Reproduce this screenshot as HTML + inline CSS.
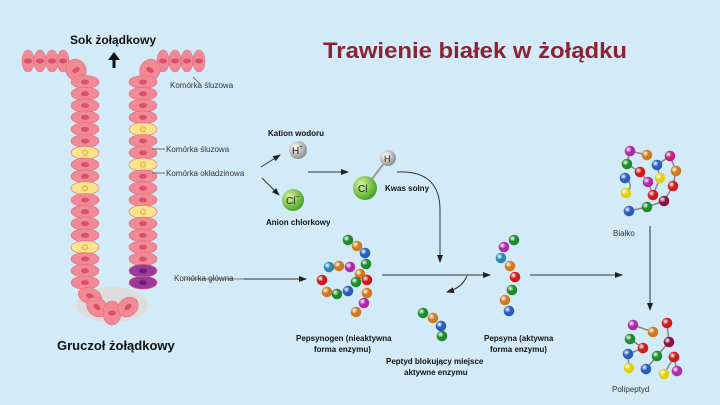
<!DOCTYPE html>
<html><head><meta charset="utf-8"><style>
html,body{margin:0;padding:0;background:#d3ebf8;}
svg{display:block;font-family:"Liberation Sans",sans-serif;}
</style></head><body>
<svg id="s" width="720" height="405" viewBox="0 0 720 405" xmlns="http://www.w3.org/2000/svg">
<defs>
<radialGradient id="gH" cx="35%" cy="35%" r="70%"><stop offset="0" stop-color="#fff"/><stop offset="1" stop-color="#8a8a8a"/></radialGradient>
<radialGradient id="gC" cx="35%" cy="35%" r="70%"><stop offset="0" stop-color="#d8f5a0"/><stop offset="1" stop-color="#3fa01c"/></radialGradient>
<marker id="ar" markerWidth="8" markerHeight="8" refX="7" refY="4" orient="auto" markerUnits="userSpaceOnUse"><path d="M0,1 L8,4 L0,7 z" fill="#222"/></marker>
</defs>
<rect width="720" height="405" fill="#d3ebf8"/>
<g id="gland"></g>
<g id="balls"></g>
<text x="323" y="58" font-size="22" font-weight="bold" fill="#8b2332" textLength="304" lengthAdjust="spacingAndGlyphs">Trawienie białek w żołądku</text>
<text x="70" y="44" font-size="12" font-weight="bold" fill="#111">Sok żołądkowy</text>
<path d="M114,68 L114,58" stroke="#111" stroke-width="3"/><path d="M108,60 L114,52 L120,60 z" fill="#111"/>
<text x="57" y="350" font-size="13" font-weight="bold" fill="#111">Gruczoł żołądkowy</text>
<g font-size="8" fill="#333">
<text x="170" y="88">Komórka śluzowa</text>
<text x="166" y="152">Komórka śluzowa</text>
<text x="166" y="176">Komórka okładzinowa</text>
<text x="174" y="281">Komórka główna</text>
<text x="613" y="236">Białko</text>
<text x="612" y="392">Polipeptyd</text>
</g>
<g stroke="#555" stroke-width="0.8"><line x1="152" y1="149" x2="165" y2="149"/><line x1="152" y1="173" x2="165" y2="173"/><line x1="193" y1="77" x2="200" y2="84"/></g>
<g font-size="8" font-weight="bold" fill="#111">
<text x="268" y="136">Kation wodoru</text>
<text x="266" y="225">Anion chlorkowy</text>
<text x="385" y="191">Kwas solny</text>
<text x="296" y="341">Pepsynogen (nieaktywna</text>
<text x="314" y="352">forma enzymu)</text>
<text x="386" y="364">Peptyd blokujący miejsce</text>
<text x="404" y="375">aktywne enzymu</text>
<text x="484" y="341">Pepsyna (aktywna</text>
<text x="490" y="352">forma enzymu)</text>
</g>
<g stroke="#333" stroke-width="1" fill="none" marker-end="url(#ar)">
<line x1="244" y1="279" x2="306" y2="279"/>
<line x1="261" y1="167" x2="280" y2="155"/>
<line x1="262" y1="178" x2="279" y2="195"/>
<line x1="308" y1="172" x2="348" y2="172"/>
<path d="M397,172 Q440,170 440,210 L440,262"/>
<line x1="382" y1="275" x2="490" y2="275"/>
<path d="M467,276 Q462,288 447,292"/>
<line x1="530" y1="275" x2="622" y2="275"/>
<line x1="650" y1="226" x2="650" y2="310"/>
</g>
<line x1="186" y1="279" x2="244" y2="279" stroke="#555" stroke-width="0.8"/>
<circle cx="298" cy="150" r="9" fill="url(#gH)"/><text x="292" y="154" font-size="10" fill="#222">H<tspan font-size="6" dy="-5">+</tspan></text>
<circle cx="293" cy="200" r="11" fill="url(#gC)"/><text x="286" y="204" font-size="10" fill="#222">Cl<tspan font-size="7" dy="-5">−</tspan></text>
<line x1="365" y1="188" x2="388" y2="158" stroke="#999" stroke-width="2"/>
<circle cx="388" cy="158" r="8" fill="url(#gH)"/><text x="384" y="162" font-size="9" fill="#222">H</text>
<circle cx="365" cy="188" r="12" fill="url(#gC)"/><text x="358" y="192" font-size="10" fill="#222">Cl</text>
</svg>
<script>
var NS="http://www.w3.org/2000/svg";
function el(p,t,a){var e=document.createElementNS(NS,t);for(var k in a)e.setAttribute(k,a[k]);p.appendChild(e);return e;}
var g=document.getElementById("gland");
var pink="#f28a96",dark="#d9506a",yel="#fbe58a";
function cell(x,y,rx,ry,type,rot){
 var f=pink,n=dark;
 if(type=="y"){f=yel;n="#e8a040";}
 if(type=="p"){f="#9a3a9e";n="#6a2070";}
 var gg=el(g,"g",{transform:"rotate("+(rot||0)+" "+x+" "+y+")"});
 el(gg,"ellipse",{cx:x,cy:y,rx:rx,ry:ry,fill:f,stroke:"#e06a7c","stroke-width":0.6});
 el(gg,"ellipse",{cx:x,cy:y,rx:type=="y"?2.5:4,ry:2.5,fill:type=="y"?"none":n,stroke:type=="y"?n:"none","stroke-width":1});
}
el(g,"ellipse",{cx:112,cy:305,rx:36,ry:18,fill:"#ddd"});
[28,40,52,63].forEach(function(x){cell(x,61,6,11,"");});
[163,175,187,199].forEach(function(x){cell(x,61,6,11,"");});
cell(76,70,10,11,"",-30);cell(150,70,10,11,"",30);
var L=["","","","","","","y","","","y","","","","","y","","",""];
var R=["","","","","y","","","y","","","","y","","","","","p","p"];
for(var i=0;i<18;i++){var y=82+i*11.8;cell(85,y,14,6.5,L[i]);}
for(var i=0;i<18;i++){var y=82+i*11.8;cell(143,y,14,6.5,R[i]);}
cell(90,296,12,8,"",20);cell(97,307,11,9,"",40);cell(112,313,9,12,"");cell(128,307,11,9,"",-40);
var B=document.getElementById("balls");
var C={g:"#1e8a2a",o:"#d07a20",b:"#2a5cc0",r:"#d01a1a",p:"#b02aa8",y:"#e0d010",m:"#c02080",d:"#8a1040",t:"#2a8ab0"};
function ball(x,y,c,r){
 var id="bg"+c;
 if(!document.getElementById(id)){var d=document.querySelector("defs");var rg=el(d,"radialGradient",{id:id,cx:"35%",cy:"35%",r:"70%"});el(rg,"stop",{offset:0,"stop-color":"#fff"});el(rg,"stop",{offset:0.45,"stop-color":C[c]});el(rg,"stop",{offset:1,"stop-color":C[c]});}
 el(B,"circle",{cx:x,cy:y,r:r||5.3,fill:"url(#"+id+")"});
}
function chain(list,line){
 if(line){var d="M"+list.map(function(a){return a[0]+","+a[1];}).join(" L");el(B,"path",{d:d,stroke:"#888","stroke-width":1.5,fill:"none"});}
 list.forEach(function(a){ball(a[0],a[1],a[2],a[3]);});
}
chain([[348,240,"g"],[357,246,"o"],[365,253,"b"],[366,264,"g"],[329,267,"t"],[339,266,"o"],[350,267,"p"],[360,274,"o"],[322,280,"r"],[356,282,"g"],[367,280,"r"],[327,292,"o"],[337,294,"g"],[348,291,"b"],[367,293,"o"],[364,303,"p"],[356,312,"o"]]);
chain([[423,313,"g"],[433,318,"o"],[441,326,"b"],[442,336,"g"]]);
chain([[514,240,"g"],[504,247,"p"],[501,258,"t"],[510,266,"o"],[515,277,"r"],[512,290,"g"],[505,300,"o"],[509,311,"b"]]);
chain([[629,211,"b"],[647,207,"g"],[664,201,"d"],[673,186,"r"],[676,171,"o"],[670,156,"m"],[657,165,"b"],[660,178,"y"],[653,195,"r"],[648,182,"p"],[640,172,"r"],[627,164,"g"],[630,151,"p"],[647,155,"o"]],true);
el(B,"path",{d:"M625,178 Q635,185 626,193",stroke:"#888","stroke-width":1.5,fill:"none"});
ball(625,178,"b");ball(626,193,"y");
chain([[633,325,"p"],[653,332,"o"]],true);
chain([[630,339,"g"],[643,348,"r"],[628,354,"b"],[629,368,"y"]],true);
chain([[667,323,"r"],[669,342,"d"],[657,356,"g"],[646,369,"b"]],true);
chain([[674,357,"r"],[664,374,"y"]],true);
chain([[674,357,"r"],[677,371,"p"]],true);
</script>
</body></html>
